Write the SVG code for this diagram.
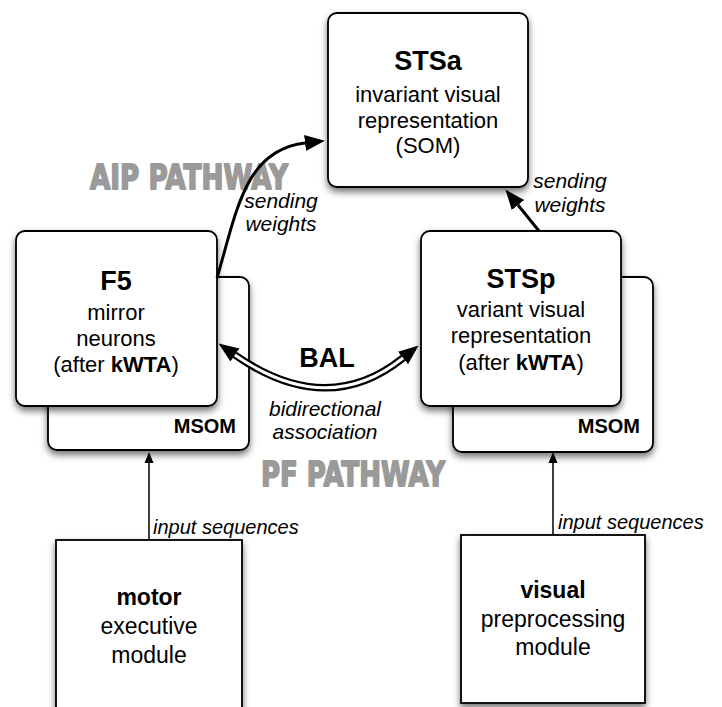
<svg xmlns="http://www.w3.org/2000/svg" width="722" height="707" viewBox="0 0 722 707">
  <style>
    .box { fill: #fff; stroke: #000; stroke-width: 1.8; }
    .t { font-family: "Liberation Sans", Arial, sans-serif; fill: #000; text-anchor: middle; }
    .body { font-size: 22px; }
    .low { font-size: 23px; }
    .title { font-size: 27px; font-weight: bold; }
    .lowtitle { font-size: 23px; font-weight: bold; }
    .msom { font-size: 20px; font-weight: bold; text-anchor: end; }
    .lbl { font-family: "Liberation Sans", Arial, sans-serif; font-style: italic; font-size: 21px; fill: #000; }
    .lbl-sm { font-size: 20px; }
    .path-name { font-family: "DejaVu Sans", "Liberation Sans", sans-serif; font-weight: bold; font-size: 34px; fill: #9a9a9a; stroke: #9a9a9a; stroke-width: 1.8; stroke-linejoin: round; }
    .wire { fill: none; stroke: #000; }
    .wire-core { fill: none; stroke: #fff; }
  </style>
  <defs>
    <filter id="shadow" x="-20%" y="-20%" width="140%" height="150%">
      <feDropShadow dx="0" dy="4" stdDeviation="3.5" flood-color="#000" flood-opacity="0.55"/>
    </filter>
    <marker id="bigArrow" markerUnits="userSpaceOnUse" viewBox="0 -9 22 18" refX="0" refY="0" markerWidth="22" markerHeight="18" orient="auto-start-reverse">
      <path d="M0,-8 L20,0 L0,8 z" fill="#000"/>
    </marker>
    <marker id="smallArrow" markerUnits="userSpaceOnUse" viewBox="0 -6 12 12" refX="0" refY="0" markerWidth="12" markerHeight="12" orient="auto">
      <path d="M0,-4.5 L11,0 L0,4.5 z" fill="#000"/>
    </marker>
  </defs>

  <rect width="722" height="707" fill="#fff"/>

  <!-- pathway names -->
  <g id="pathway-labels">
    <text class="path-name" x="90" y="189" textLength="198" lengthAdjust="spacingAndGlyphs">AIP PATHWAY</text>
    <text class="path-name" x="261" y="486" textLength="184" lengthAdjust="spacingAndGlyphs">PF PATHWAY</text>
  </g>

  <!-- STSa: invariant visual representation -->
  <g id="stsa">
    <rect class="box" x="328" y="13" width="200" height="174" rx="9" filter="url(#shadow)"/>
    <text class="t title" x="428" y="70">STSa</text>
    <text class="t body" x="428" y="102">invariant visual</text>
    <text class="t body" x="428" y="128">representation</text>
    <text class="t body" x="428" y="153">(SOM)</text>
  </g>

  <!-- F5 stack: MSOM layer behind, mirror neurons in front -->
  <g id="f5-msom">
    <rect class="box" x="48" y="277" width="201" height="173" rx="9" filter="url(#shadow)"/>
    <text class="t msom" x="236" y="433">MSOM</text>
  </g>
  <g id="f5">
    <rect class="box" x="16" y="231" width="201" height="175" rx="9" filter="url(#shadow)"/>
    <text class="t title" x="116" y="290">F5</text>
    <text class="t body" x="116" y="320">mirror</text>
    <text class="t body" x="116" y="346">neurons</text>
    <text class="t body" x="116" y="372">(after <tspan font-weight="bold">kWTA</tspan>)</text>
  </g>

  <!-- STSp stack -->
  <g id="stsp-msom">
    <rect class="box" x="453" y="277" width="200" height="175" rx="9" filter="url(#shadow)"/>
    <text class="t msom" x="640" y="433">MSOM</text>
  </g>
  <g id="stsp">
    <rect class="box" x="421" y="231" width="200" height="175" rx="9" filter="url(#shadow)"/>
    <text class="t title" x="521" y="288">STSp</text>
    <text class="t body" x="521" y="317">variant visual</text>
    <text class="t body" x="521" y="343">representation</text>
    <text class="t body" x="521" y="370">(after <tspan font-weight="bold">kWTA</tspan>)</text>
  </g>

  <!-- input modules -->
  <g id="motor">
    <rect class="box" x="56" y="540" width="186" height="180" filter="url(#shadow)"/>
    <text class="t lowtitle" x="149" y="605">motor</text>
    <text class="t low" x="149" y="634">executive</text>
    <text class="t low" x="149" y="663">module</text>
  </g>
  <g id="visual">
    <rect class="box" x="461" y="535" width="184" height="168" filter="url(#shadow)"/>
    <text class="t lowtitle" x="553" y="598">visual</text>
    <text class="t low" x="553" y="627">preprocessing</text>
    <text class="t low" x="553" y="655">module</text>
  </g>

  <!-- connectors -->
  <g id="connectors">
    <!-- F5 -> STSa -->
    <path class="wire" d="M217,278 C237,210 245,150 305,143" stroke-width="3" marker-end="url(#bigArrow)"/>
    <!-- STSp -> STSa -->
    <path class="wire" d="M539,231 L518,205" stroke-width="3" marker-end="url(#bigArrow)"/>
    <!-- BAL: bidirectional double line -->
    <path class="wire" d="M235,355 Q327,419 403,358" stroke-width="7.5" marker-start="url(#bigArrow)" marker-end="url(#bigArrow)"/>
    <path class="wire-core" d="M235,355 Q327,419 403,358" stroke-width="3"/>
    <!-- input sequences -->
    <path class="wire" d="M149,540 L149,463" stroke-width="1.5" marker-end="url(#smallArrow)"/>
    <path class="wire" d="M553,535 L553,463" stroke-width="1.5" marker-end="url(#smallArrow)"/>
  </g>

  <!-- connector labels -->
  <g id="connector-labels">
    <text class="lbl" x="281" y="208" text-anchor="middle">sending</text>
    <text class="lbl" x="281" y="231" text-anchor="middle">weights</text>
    <text class="lbl" x="570" y="188" text-anchor="middle">sending</text>
    <text class="lbl" x="570" y="212" text-anchor="middle">weights</text>
    <text class="t title" x="327" y="367">BAL</text>
    <text class="lbl" x="325" y="416" text-anchor="middle">bidirectional</text>
    <text class="lbl" x="325" y="439" text-anchor="middle">association</text>
    <text class="lbl lbl-sm" x="153" y="534">input sequences</text>
    <text class="lbl lbl-sm" x="558" y="529">input sequences</text>
  </g>
</svg>
